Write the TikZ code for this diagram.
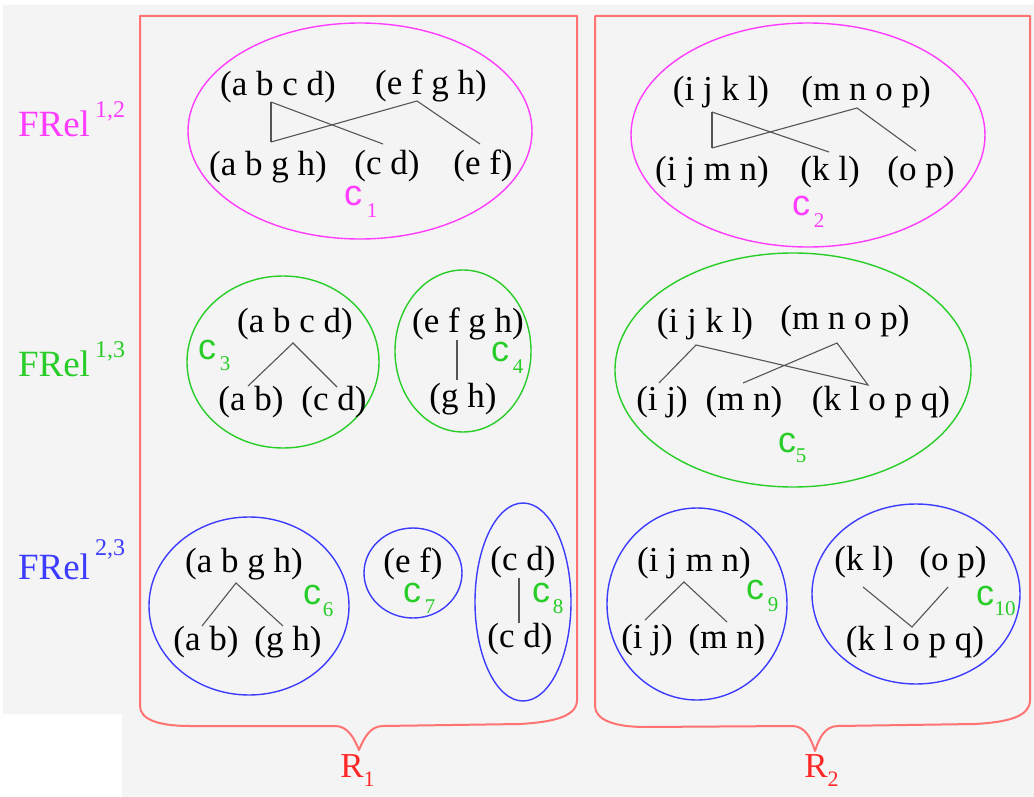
\documentclass[tikz,border=0pt]{standalone}
\usepackage{fontspec}
\setmainfont{Liberation Serif}
\newfontfamily\lblsans{Liberation Sans}
\definecolor{bgg}{RGB}{244,244,244}
\definecolor{boxred}{RGB}{255,115,115}
\definecolor{rred}{RGB}{255,40,40}
\definecolor{mag}{RGB}{255,60,255}
\definecolor{grn}{RGB}{40,205,40}
\definecolor{blu}{RGB}{60,60,255}
\definecolor{ln}{RGB}{85,85,85}
\begin{document}
\begin{tikzpicture}[x=1pt,y=-1pt,
  txt/.style={inner sep=0pt, font=\fontsize{35}{40}\selectfont},
  frel/.style={inner sep=0pt, font=\fontsize{37}{42}\selectfont},
  fsup/.style={inner sep=0pt, anchor=base, font=\fontsize{24}{28}\selectfont},
  clab/.style={inner sep=0pt, font=\lblsans\fontsize{36}{40}\selectfont},
  csub/.style={inner sep=0pt, font=\fontsize{21}{24}\selectfont},
  rlab/.style={inner sep=0pt, text=rred, font=\fontsize{35}{40}\selectfont},
  rsub/.style={inner sep=0pt, text=rred, font=\fontsize{22}{26}\selectfont},
  tree/.style={draw=ln, line width=1.1pt},
  ell/.style={line width=1.4pt},
  rbox/.style={draw=boxred, line width=2pt, line join=round}
]
\useasboundingbox (0,0) rectangle (1034,797);
\fill[white] (0,0) rectangle (1034,797);
\fill[bgg] (3,5) -- (1034,5) -- (1034,797) -- (122,797) -- (122,714) -- (3,714) -- cycle;

% boxes with braces
\draw[rbox] (140,16) -- (577,16) -- (577,700) .. controls (577,716) and (555,722) .. (520,724) -- (383,726) .. controls (370,726) and (364,738) .. (359,750) .. controls (354,738) and (348,726) .. (335,726) -- (190,726) .. controls (160,726) and (140,720) .. (140,706) -- cycle;
\draw[rbox] (595,16) -- (1030,16) -- (1030,700) .. controls (1030,716) and (1010,722) .. (975,724) -- (838,726) .. controls (825,726) and (819,738) .. (815,751) .. controls (811,738) and (805,726) .. (792,726) -- (645,727) .. controls (615,727) and (595,720) .. (595,706) -- cycle;
\node[rlab] (r1) at (352,766) {R};
\node[rsub] (r1s) at (369,779) {1};
\node[rlab] (r2) at (816,766) {R};
\node[rsub] (r2s) at (833,779) {2};

% row labels
\node[frel, text=mag] (f12) at (54,124) {FRel};
\node[fsup, text=mag] (f12s) at (110,118) {1,2};
\node[frel, text=grn] (f13) at (54,364) {FRel};
\node[fsup, text=grn] (f13s) at (110,357) {1,3};
\node[frel, text=blu] (f23) at (54,567) {FRel};
\node[fsup, text=blu] (f23s) at (110,555) {2,3};

% c1
\draw[mag, ell] (360,131) ellipse [x radius=172pt, y radius=108pt];
\node[txt] (abcd1) at (278,87) {(a b c d)};
\node[txt] (efgh1) at (431,86) {(e f g h)};
\node[txt] (abgh1) at (268,167) {(a b g h)};
\node[txt] (cd1) at (387,166) {(c d)};
\node[txt] (ef1) at (483,166) {(e f)};
\node[clab, text=mag] (c1) at (353,196) {c};
\node[csub, text=mag] (c1s) at (372,211) {1};
\coordinate (p1a) at (271,102);
\coordinate (p1b) at (271,142);
\coordinate (p1c) at (383,144);
\coordinate (p1d) at (417,101);
\coordinate (p1e) at (480,144);
\draw[tree] (p1a) -- (p1b);
\draw[tree] (p1a) -- (p1c);
\draw[tree] (p1b) -- (p1d) -- (p1e);

% c2
\draw[mag, ell] (808,135) ellipse [x radius=177pt, y radius=112pt];
\node[txt] (ijkl2) at (721,92) {(i j k l)};
\node[txt] (mnop2) at (866,92) {(m n o p)};
\node[txt] (ijmn2) at (712,172) {(i j m n)};
\node[txt] (kl2) at (830,172) {(k l)};
\node[txt] (op2) at (921,172) {(o p)};
\node[clab, text=mag] (c2) at (801,206) {c};
\node[csub, text=mag] (c2s) at (819,221) {2};
\coordinate (p2a) at (712,112);
\coordinate (p2b) at (712,148);
\coordinate (p2c) at (829,152);
\coordinate (p2d) at (857,108);
\coordinate (p2e) at (916,151);
\draw[tree] (p2a) -- (p2b);
\draw[tree] (p2a) -- (p2c);
\draw[tree] (p2b) -- (p2d) -- (p2e);

% c3
\draw[grn, ell] (283,362) ellipse [x radius=96pt, y radius=86pt];
\node[txt] (abcd3) at (295,324) {(a b c d)};
\node[txt] (ab3) at (251,402) {(a b)};
\node[txt] (cd3) at (334,402) {(c d)};
\node[clab, text=grn] (c3) at (207,350) {c};
\node[csub, text=grn] (c3s) at (225,364) {3};
\coordinate (p3a) at (293,343);
\coordinate (p3b) at (248,386);
\coordinate (p3c) at (337,387);
\draw[tree] (p3b) -- (p3a) -- (p3c);

% c4
\draw[grn, ell] (463,351) ellipse [x radius=68pt, y radius=81pt];
\node[txt] (efgh4) at (468,324) {(e f g h)};
\node[txt] (gh4) at (463,399) {(g h)};
\node[clab, text=grn] (c4) at (500,352) {c};
\node[csub, text=grn] (c4s) at (518,367) {4};
\coordinate (p4a) at (457,340);
\coordinate (p4b) at (457,380);
\draw[tree] (p4a) -- (p4b);

% c5
\draw[grn, ell] (793,370) ellipse [x radius=178pt, y radius=117pt];
\node[txt] (ijkl5) at (705,324) {(i j k l)};
\node[txt] (mnop5) at (845,321) {(m n o p)};
\node[txt] (ij5) at (662,402) {(i j)};
\node[txt] (mn5) at (744,402) {(m n)};
\node[txt] (klopq5) at (881,402) {(k l o p q)};
\node[clab, text=grn] (c5) at (787,443) {c};
\node[csub, text=grn] (c5s) at (801,456) {5};
\coordinate (p5a) at (696,345);
\coordinate (p5b) at (659,383);
\coordinate (p5c) at (868,385);
\coordinate (p5d) at (837,343);
\coordinate (p5e) at (743,383);
\draw[tree] (p5b) -- (p5a) -- (p5c) -- (p5d) -- (p5e);

% c6
\draw[blu, ell] (249,606) ellipse [x radius=100pt, y radius=89pt];
\node[txt] (abgh6) at (244,564) {(a b g h)};
\node[txt] (ab6) at (206,642) {(a b)};
\node[txt] (gh6) at (288,642) {(g h)};
\node[clab, text=grn] (c6) at (312,595) {c};
\node[csub, text=grn] (c6s) at (328,610) {6};
\coordinate (p6a) at (236,583);
\coordinate (p6b) at (202,626);
\coordinate (p6c) at (283,626);
\draw[tree] (p6b) -- (p6a) -- (p6c);

% c7
\draw[blu, ell] (413,573) ellipse [x radius=49pt, y radius=45pt];
\node[txt] (ef7) at (413,564) {(e f)};
\node[clab, text=grn] (c7) at (412,593) {c};
\node[csub, text=grn] (c7s) at (430,607) {7};

% c8
\draw[blu, ell] (523,602) ellipse [x radius=48pt, y radius=99pt];
\node[txt] (cd8a) at (523,562) {(c d)};
\node[txt] (cd8b) at (520,639) {(c d)};
\node[clab, text=grn] (c8) at (541,593) {c};
\node[csub, text=grn] (c8s) at (558,607) {8};
\coordinate (p8a) at (519,578);
\coordinate (p8b) at (519,623);
\draw[tree] (p8a) -- (p8b);

% c9
\draw[blu, ell] (697,604) ellipse [x radius=90pt, y radius=96pt];
\node[txt] (ijmn9) at (694,563) {(i j m n)};
\node[txt] (ij9) at (647,640) {(i j)};
\node[txt] (mn9) at (727,640) {(m n)};
\node[clab, text=grn] (c9) at (755,590) {c};
\node[csub, text=grn] (c9s) at (773,605) {9};
\coordinate (p9a) at (684,582);
\coordinate (p9b) at (645,620);
\coordinate (p9c) at (727,622);
\draw[tree] (p9b) -- (p9a) -- (p9c);

% c10
\draw[blu, ell] (916,594) ellipse [x radius=104pt, y radius=90pt];
\node[txt] (kl10) at (864,562) {(k l)};
\node[txt] (op10) at (953,562) {(o p)};
\node[txt] (klopq10) at (915,642) {(k l o p q)};
\node[clab, text=grn] (c10) at (985,596) {c};
\node[csub, text=grn] (c10s) at (1005,609) {10};
\coordinate (p10a) at (863,587);
\coordinate (p10b) at (912,627);
\coordinate (p10c) at (948,587);
\draw[tree] (p10a) -- (p10b) -- (p10c);
\end{tikzpicture}
\end{document}
